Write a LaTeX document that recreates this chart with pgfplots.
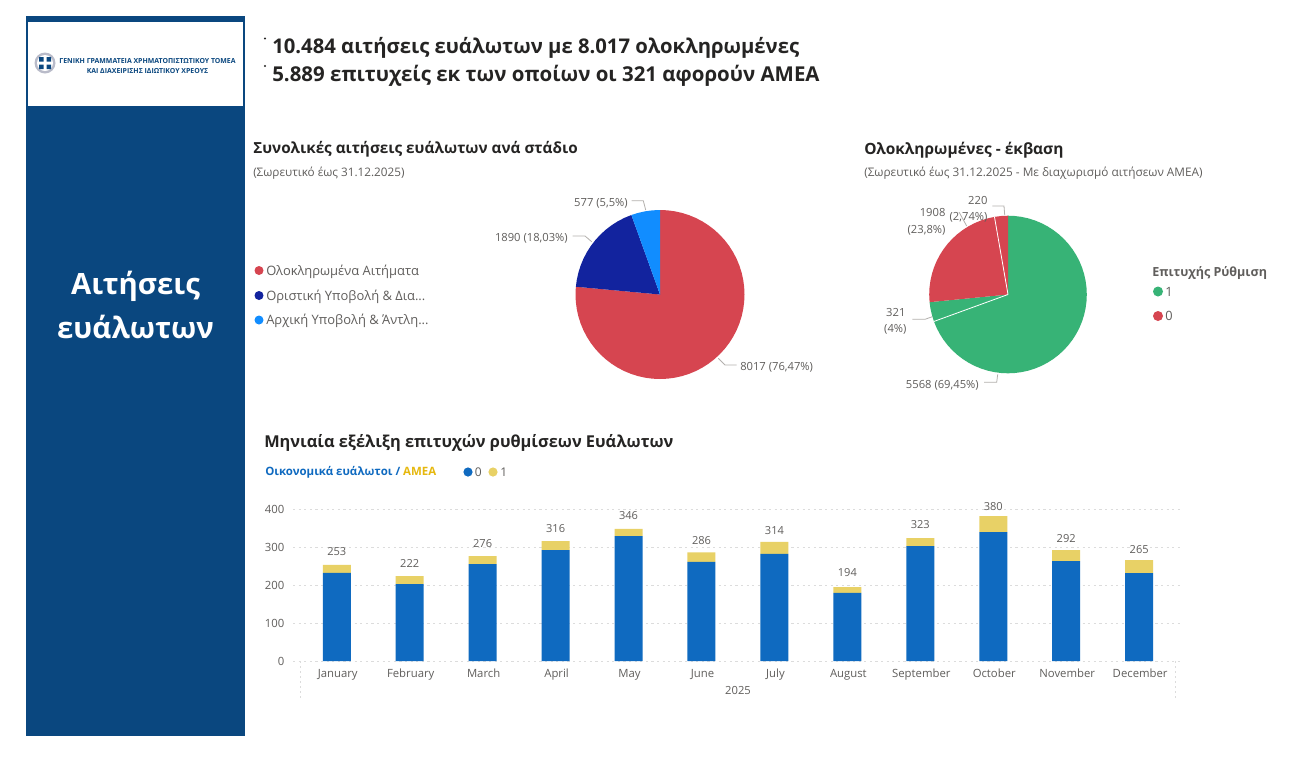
\documentclass[border=0pt]{standalone}
\usepackage{fontspec}
\setmainfont{Open Sans}
\usepackage{pgfplots}
\pgfplotsset{compat=1.18}
\usepgfplotslibrary{polar}
\definecolor{side}{HTML}{0A477F}
\definecolor{ink}{HTML}{252423}
\definecolor{lab}{HTML}{605E5C}
\definecolor{lead}{HTML}{B3B0AD}
\definecolor{pred}{HTML}{D64550}
\definecolor{pnavy}{HTML}{12239E}
\definecolor{psky}{HTML}{118DFF}
\definecolor{pgreen}{HTML}{37B376}
\definecolor{bblue}{HTML}{0F6AC0}
\definecolor{byel}{HTML}{E8D166}
\definecolor{amea}{HTML}{E6B80F}
\definecolor{grid}{HTML}{DCDCDC}
\newcommand{\fs}[1]{\fontsize{#1}{#1}\selectfont}
\pgfplotsset{pie/.style={hide axis,scale only axis,clip=false,ymin=0,ymax=1,xmin=0,xmax=360,anchor=center}}
\begin{document}
\begin{tikzpicture}[x=0.75pt,y=-0.75pt,
  lb/.style={inner sep=0pt,text=lab,font=\fs{8.4}},
  ld/.style={draw=lead,line width=0.6pt}]
\path[use as bounding box,fill=white] (0,0) rectangle (1307,758);
\coordinate (p1) at (660,294.5);
\coordinate (p2) at (1008,294.5);
\coordinate (b0) at (293,661);
% side panel
\fill[side] (26,16) rectangle (245,736);
\fill[white] (28,22) rectangle (243,106);
\node[text=white,font=\bfseries\fs{22},align=center,inner sep=0pt] at (135.5,286) {Αιτήσεις};
\node[text=white,font=\bfseries\fs{22},align=center,inner sep=0pt] at (135.5,327) {ευάλωτων};
% logo
\fill[pnavy!25!gray!45] (45,63) circle (10.5);
\fill[white] (45,63) circle (8);
\fill[side] (39,57) rectangle (43.5,61.5) (46.5,57) rectangle (51,61.5) (39,64.5) rectangle (43.5,69) (46.5,64.5) rectangle (51,69);
\node[inner sep=0pt,text=side,font=\bfseries\fs{5.2},anchor=mid] at (147.5,60) {ΓΕΝΙΚΗ ΓΡΑΜΜΑΤΕΙΑ ΧΡΗΜΑΤΟΠΙΣΤΩΤΙΚΟΥ ΤΟΜΕΑ};
\node[inner sep=0pt,text=side,font=\bfseries\fs{5.2},anchor=mid] at (147.5,70) {ΚΑΙ ΔΙΑΧΕΙΡΙΣΗΣ ΙΔΙΩΤΙΚΟΥ ΧΡΕΟΥΣ};
% headline
\fill[ink] (265,38.5) circle (1.1);
\fill[ink] (265,66) circle (1.1);
\node[inner sep=0pt,anchor=mid west,text=ink,font=\bfseries\fs{15.2}] at (272,50) {10.484 αιτήσεις ευάλωτων με 8.017 ολοκληρωμένες};
\node[inner sep=0pt,anchor=mid west,text=ink,font=\bfseries\fs{15.35}] at (272,78) {5.889 επιτυχείς εκ των οποίων οι 321 αφορούν ΑΜΕΑ};
% titles
\node[inner sep=0pt,anchor=mid west,text=ink,font=\bfseries\fs{11.45}] at (253,149.5) {Συνολικές αιτήσεις ευάλωτων ανά στάδιο};
\node[lb,anchor=mid west,font=\fs{8.8}] at (253,173) {(Σωρευτικό έως 31.12.2025)};
\node[inner sep=0pt,anchor=mid west,text=ink,font=\bfseries\fs{11.6}] at (864,150.5) {Ολοκληρωμένες - έκβαση};
\node[lb,anchor=mid west,font=\fs{8.85}] at (864,173) {(Σωρευτικό έως 31.12.2025 - Με διαχωρισμό αιτήσεων ΑΜΕΑ)};
\node[inner sep=0pt,anchor=mid west,text=ink,font=\bfseries\fs{12.27}] at (264,443.5) {Μηνιαία εξέλιξη επιτυχών ρυθμίσεων Ευάλωτων};
% legend pie 1
\fill[pred] (259,270.5) circle (4.5);
\fill[pnavy] (259,295.5) circle (4.5);
\fill[psky] (259,320) circle (4.5);
\node[lb,anchor=mid west,font=\fs{9.7}] at (266,271.5) {Ολοκληρωμένα Αιτήματα};
\node[lb,anchor=mid west,font=\fs{9.7}] at (266,296.5) {Οριστική Υποβολή \& Δια...};
\node[lb,anchor=mid west,font=\fs{9.7}] at (266,321) {Αρχική Υποβολή \& Άντλη...};
% pie 1
\begin{polaraxis}[pie,at={(p1)},width=126.75pt,height=126.75pt]
\addplot[fill=pred,draw=none] coordinates {(0,0)(90,1)(85,1)(80,1)(75,1)(70,1)(65,1)(60,1)(55,1)(50,1)(45,1)(40,1)(35,1)(30,1)(25,1)(20,1)(15,1)(10,1)(5,1)(0,1)(355,1)(350,1)(345,1)(340,1)(335,1)(330,1)(325,1)(320,1)(315,1)(310,1)(305,1)(300,1)(295,1)(290,1)(285,1)(280,1)(275,1)(270,1)(265,1)(260,1)(255,1)(250,1)(245,1)(240,1)(235,1)(230,1)(225,1)(220,1)(215,1)(210,1)(205,1)(200,1)(195,1)(190,1)(185,1)(180,1)(175,1)(174.71,1)} --cycle;
\addplot[fill=pnavy,draw=none] coordinates {(0,0)(174.71,1)(170,1)(165,1)(160,1)(155,1)(150,1)(145,1)(140,1)(135,1)(130,1)(125,1)(120,1)(115,1)(110,1)(109.8,1)} --cycle;
\addplot[fill=psky,draw=none] coordinates {(0,0)(109.8,1)(105,1)(100,1)(95,1)(90,1)} --cycle;
\end{polaraxis}
\draw[ld] (631.7,200.7) -- (643.3,200.7) -- (645.7,210);
\draw[ld] (572.7,236) -- (585,236) -- (591.7,241.7);
\draw[ld] (718.3,358.3) -- (725,365) -- (736.7,365);
\node[lb,anchor=mid east] at (628,202.5) {577 (5,5\%)};
\node[lb,anchor=mid east] at (568,238) {1890 (18,03\%)};
\node[lb,anchor=mid west] at (740,367) {8017 (76,47\%)};
% pie 2
\begin{polaraxis}[pie,at={(p2)},width=118.2pt,height=118.2pt]
\addplot[fill=pgreen,draw=none] coordinates {(0,0)(90,1)(85,1)(80,1)(75,1)(70,1)(65,1)(60,1)(55,1)(50,1)(45,1)(40,1)(35,1)(30,1)(25,1)(20,1)(15,1)(10,1)(5,1)(0,1)(355,1)(350,1)(345,1)(340,1)(335,1)(330,1)(325,1)(320,1)(315,1)(310,1)(305,1)(300,1)(295,1)(290,1)(285,1)(280,1)(275,1)(270,1)(265,1)(260,1)(255,1)(250,1)(245,1)(240,1)(235,1)(230,1)(225,1)(220,1)(215,1)(210,1)(205,1)(200,1)(199.98,1)} --cycle;
\addplot[fill=pgreen,draw=none] coordinates {(0,0)(199.98,1)(195,1)(190,1)(185.57,1)} --cycle;
\addplot[fill=pred,draw=none] coordinates {(0,0)(185.57,1)(180,1)(175,1)(170,1)(165,1)(160,1)(155,1)(150,1)(145,1)(140,1)(135,1)(130,1)(125,1)(120,1)(115,1)(110,1)(105,1)(100,1)(99.89,1)} --cycle;
\addplot[fill=pred,draw=none] coordinates {(0,0)(99.89,1)(95,1)(90,1)} --cycle;
\addplot[white,line width=0.6pt] coordinates {(0,0)(199.98,1)};
\addplot[white,line width=0.6pt] coordinates {(0,0)(99.89,1)};
\end{polaraxis}
\draw[ld] (992.3,206) -- (1004,206) -- (1004.7,215);
\draw[ld] (959,212) -- (966.7,226);
\draw[ld] (912.3,319.3) -- (925,319.3) -- (932.3,316.7);
\draw[ld] (984,382.3) -- (996.7,382.3) -- (997.7,374.3);
\node[lb,anchor=mid east] at (987.7,200.5) {220};
\node[lb,anchor=mid east] at (987.7,216.5) {(2,74\%)};
\node[lb,anchor=mid east] at (945.7,213) {1908};
\node[lb,anchor=mid east] at (945.7,229.5) {(23,8\%)};
\node[lb,anchor=mid east] at (905.7,313) {321};
\node[lb,anchor=mid east] at (906.7,329) {(4\%)};
\node[lb,anchor=mid west] at (905.7,384.5) {5568 (69,45\%)};
% legend pie 2
\node[lb,anchor=mid west,font=\bfseries\fs{9.4}] at (1152,272.5) {Επιτυχής Ρύθμιση};
\fill[pgreen] (1158,291.5) circle (5);
\fill[pred] (1158,316) circle (5);
\node[lb,anchor=mid west,font=\fs{9.6}] at (1165,292.5) {1};
\node[lb,anchor=mid west,font=\fs{9.6}] at (1165,317) {0};
% legend bars
\node[inner sep=0pt,anchor=mid west,font=\bfseries\fs{8.6}] at (265,472) {\textcolor{bblue}{Οικονομικά ευάλωτοι /} \textcolor{amea}{ΑΜΕΑ}};
\fill[bblue] (468,472) circle (4.6);
\fill[byel] (493,472) circle (4.6);
\node[lb,anchor=mid west,font=\fs{9}] at (474.5,473) {0};
\node[lb,anchor=mid west,font=\fs{9}] at (500,473) {1};
% bars
\begin{axis}[
  at={(b0)},anchor=south west,
  scale only axis,width=665.25pt,height=113.5pt,
  ybar stacked,bar width=21pt,clip=false,
  xmin=-0.6,xmax=11.56,ymin=0,ymax=400,
  axis line style={draw=none},
  tick style={draw=none},
  xtick={0,...,11},
  xticklabels={January,February,March,April,May,June,July,August,September,October,November,December},
  ytick={0,100,200,300,400},
  ymajorgrids,
  major grid style={draw=grid,dash pattern=on 1.6pt off 2.6pt,line width=0.6pt},
  /pgf/number format/assume math mode=true,
  ticklabel style={text=lab,font=\fs{8.5}},
  xticklabel style={anchor=base,yshift=-12pt,xshift=0.75pt},
  yticklabel style={xshift=-3pt},
  xtick pos=bottom,
  ytick pos=left,
]
\addplot[fill=bblue,draw=none] coordinates {(0,233)(1,203)(2,256)(3,293)(4,330)(5,262)(6,283)(7,180)(8,304)(9,341)(10,264)(11,232)};
\addplot[fill=byel,draw=none,point meta=explicit,
  nodes near coords,
  every node near coord/.append style={text=lab,font=\fs{8.3},inner sep=0pt,anchor=mid,yshift=12.5pt},
  /pgf/number format/assume math mode=true]
  coordinates {(0,21)[253](1,21.5)[222](2,21)[276](3,24)[316](4,19)[346](5,25)[286](6,32)[314](7,15.5)[194](8,21)[323](9,42)[380](10,29)[292](11,35)[265]};
\draw[draw=grid,dash pattern=on 1.2pt off 2.6pt,line width=0.6pt] (axis cs:-0.5,0) -- ++(0pt,-29pt);
\draw[draw=grid,dash pattern=on 1.2pt off 2.6pt,line width=0.6pt] (axis cs:11.5,0) -- ++(0pt,-29pt);
\end{axis}
\node[lb,anchor=mid] at (738,691) {2025};
\end{tikzpicture}
\end{document}
